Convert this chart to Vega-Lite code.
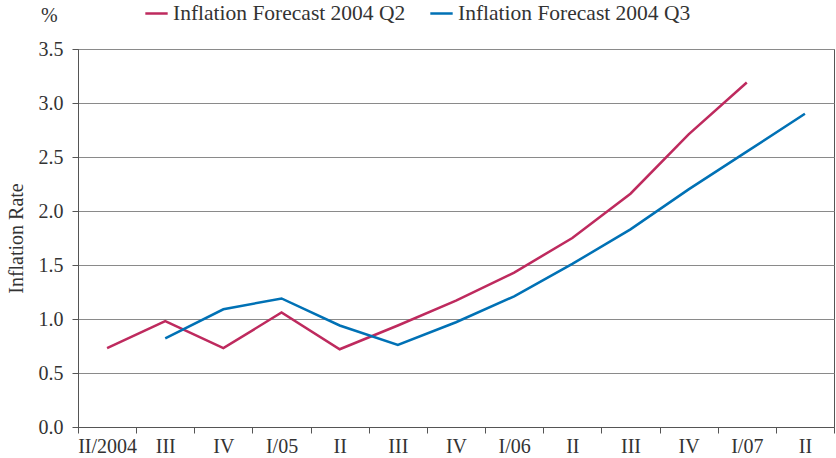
{
  "$schema": "https://vega.github.io/schema/vega-lite/v6.json",
  "width": 756,
  "height": 378,
  "autosize": {"type": "none"},
  "padding": {"left": 78, "top": 49, "right": 2, "bottom": 31},
  "background": "white",
  "config": {
    "font": "Liberation Serif",
    "view": {"stroke": "#555555", "strokeWidth": 1}
  },
  "title": {
    "text": "%",
    "anchor": "start",
    "frame": "group",
    "dx": -37,
    "offset": 0,
    "dy": 25,
    "fontSize": 20,
    "fontWeight": "normal",
    "color": "#333333",
    "font": "Liberation Serif"
  },
  "data": {
    "values": [
      {"t": 0, "series": "Inflation Forecast 2004 Q2", "value": 0.73},
      {"t": 1, "series": "Inflation Forecast 2004 Q2", "value": 0.98},
      {"t": 2, "series": "Inflation Forecast 2004 Q2", "value": 0.73},
      {"t": 3, "series": "Inflation Forecast 2004 Q2", "value": 1.06},
      {"t": 4, "series": "Inflation Forecast 2004 Q2", "value": 0.72},
      {"t": 5, "series": "Inflation Forecast 2004 Q2", "value": 0.94},
      {"t": 6, "series": "Inflation Forecast 2004 Q2", "value": 1.17},
      {"t": 7, "series": "Inflation Forecast 2004 Q2", "value": 1.43},
      {"t": 8, "series": "Inflation Forecast 2004 Q2", "value": 1.75},
      {"t": 9, "series": "Inflation Forecast 2004 Q2", "value": 2.16},
      {"t": 10, "series": "Inflation Forecast 2004 Q2", "value": 2.71},
      {"t": 11, "series": "Inflation Forecast 2004 Q2", "value": 3.19},
      {"t": 1, "series": "Inflation Forecast 2004 Q3", "value": 0.82},
      {"t": 2, "series": "Inflation Forecast 2004 Q3", "value": 1.09},
      {"t": 3, "series": "Inflation Forecast 2004 Q3", "value": 1.19},
      {"t": 4, "series": "Inflation Forecast 2004 Q3", "value": 0.94},
      {"t": 5, "series": "Inflation Forecast 2004 Q3", "value": 0.76},
      {"t": 6, "series": "Inflation Forecast 2004 Q3", "value": 0.97},
      {"t": 7, "series": "Inflation Forecast 2004 Q3", "value": 1.21},
      {"t": 8, "series": "Inflation Forecast 2004 Q3", "value": 1.51},
      {"t": 9, "series": "Inflation Forecast 2004 Q3", "value": 1.83},
      {"t": 10, "series": "Inflation Forecast 2004 Q3", "value": 2.2},
      {"t": 11, "series": "Inflation Forecast 2004 Q3", "value": 2.55},
      {"t": 12, "series": "Inflation Forecast 2004 Q3", "value": 2.9}
    ]
  },
  "mark": {"type": "line", "strokeWidth": 2.5},
  "encoding": {
    "x": {
      "field": "t",
      "type": "ordinal",
      "bandPosition": 0.5,
      "scale": {"type": "band", "domain": [0,1,2,3,4,5,6,7,8,9,10,11,12], "paddingInner": 0, "paddingOuter": 0},
      "axis": {
        "title": null,
        "labelAngle": 0,
        "labelExpr": "['II/2004','III','IV','I/05','II','III','IV','I/06','II','III','IV','I/07','II'][datum.value]",
        "tickBand": "extent",
        "tickSize": 6,
        "tickColor": "#555555",
        "domainColor": "#555555",
        "labelFontSize": 20,
        "labelColor": "#333333",
        "labelPadding": 3,
        "grid": false
      }
    },
    "y": {
      "field": "value",
      "type": "quantitative",
      "scale": {"domain": [0, 3.5], "nice": false, "zero": true},
      "axis": {
        "title": "Inflation Rate",
        "titleFontSize": 20,
        "titleFontWeight": "normal",
        "titleColor": "#333333",
        "titlePadding": 12,
        "values": [0, 0.5, 1, 1.5, 2, 2.5, 3, 3.5],
        "format": ".1f",
        "tickSize": 6,
        "tickColor": "#555555",
        "domainColor": "#555555",
        "gridColor": "#8a8a8a",
        "gridWidth": 1,
        "labelFontSize": 20,
        "labelColor": "#333333",
        "labelPadding": 9
      }
    },
    "color": {
      "field": "series",
      "type": "nominal",
      "scale": {
        "domain": ["Inflation Forecast 2004 Q2", "Inflation Forecast 2004 Q3"],
        "range": ["#BE2A5E", "#0071B5"]
      },
      "legend": {
        "title": null,
        "orient": "none",
        "legendX": 66,
        "legendY": -48,
        "direction": "horizontal",
        "symbolType": "stroke",
        "symbolSize": 500,
        "symbolStrokeWidth": 2.5,
        "labelFontSize": 21.5,
        "labelColor": "#333333",
        "labelOffset": 4,
        "labelLimit": 400,
        "columnPadding": 19
      }
    }
  }
}
